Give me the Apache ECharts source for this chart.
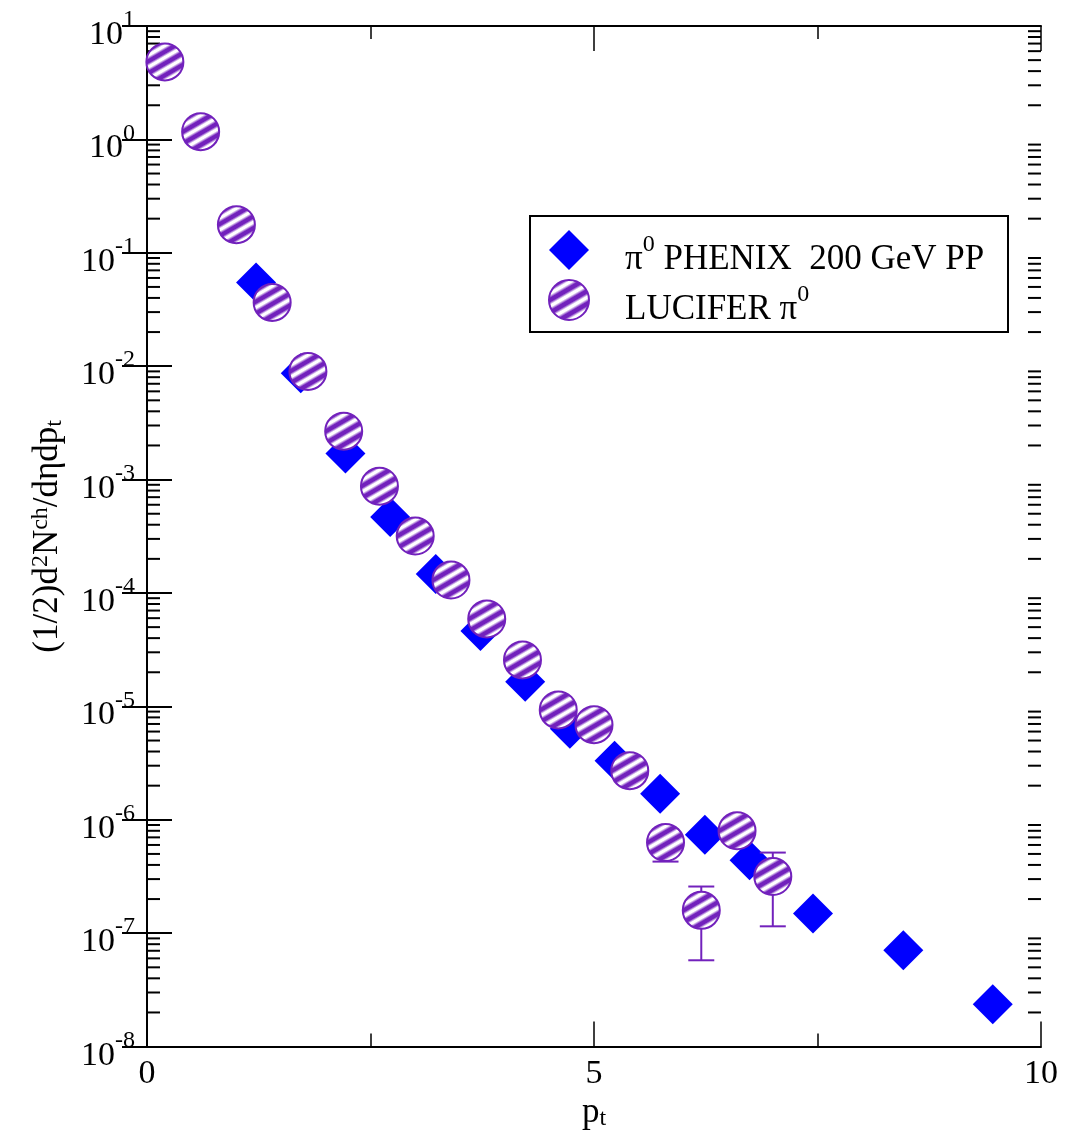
<!DOCTYPE html>
<html><head><meta charset="utf-8">
<script src="https://cdn.jsdelivr.net/npm/echarts@6/dist/echarts.min.js"></script>
<style>html,body{margin:0;padding:0;background:#fff}#c{width:1066px;height:1136px}</style>
</head><body><div id="c"></div>
<script>
// ---- data ----
const phenixPt    = [1.22, 1.72, 2.22, 2.72, 3.23, 3.73, 4.23, 4.73, 5.23, 5.74, 6.24, 6.74, 7.45, 8.46, 9.46];
const phenixYield = [0.0547, 0.00865, 0.0017, 4.67e-4, 1.47e-4, 4.63e-5, 1.65e-5, 6.35e-6, 3.32e-6, 1.70e-6, 7.4e-7, 4.4e-7, 1.49e-7, 7.06e-8, 2.36e-8];
const luciferPt    = [0.2, 0.6, 1.0, 1.4, 1.8, 2.2, 2.6, 3.0, 3.4, 3.8, 4.2, 4.6, 5.0, 5.4, 5.8, 6.2, 6.6, 7.0];
const luciferYield = [4.82, 1.17, 0.177, 0.0365, 0.009, 0.00267, 8.75e-4, 3.18e-4, 1.30e-4, 5.9e-5, 2.57e-5, 9.3e-6, 6.9e-6, 2.71e-6, 6.3e-7, 1.59e-7, 8.0e-7, 3.16e-7];
const luciferErrLow  = [null,null,null,null,null,null,null,null,null,null,null,null,null,null, 4.28e-7, 5.77e-8, null, 1.15e-7];
const luciferErrHigh = [null,null,null,null,null,null,null,null,null,null,null,null,null,null, 8.3e-7, 2.58e-7, null, 5.14e-7];
const xRange = [0, 10];
const yRange = [1e-8, 10];
const yMinorMantissas = [2, 3, 4, 5, 6, 7, 8, 9];
const yDecadeExps = [-8, -7, -6, -5, -4, -3, -2, -1, 0];

const BLUE = '#0000ff';
const PURPLE = '#7221bc';
const FONT = '"Liberation Serif", "Times New Roman", serif';

// minor tick values for the log axis
const yMinorVals = [];
yDecadeExps.forEach(e => yMinorMantissas.forEach(m => yMinorVals.push(m * Math.pow(10, e))));

// striped fill for the LUCIFER circles
function stripes() {
  const stops = [];
  const n = 3.8;
  for (let i = 0; i < Math.ceil(n); i++) {
    const p = 1 / n, o = i * p;
    const push = (f, c) => { const v = o + f * p; if (v <= 1) stops.push({offset: v, color: c}); };
    push(0.0, PURPLE); push(0.18, PURPLE); push(0.42, '#ffffff'); push(0.62, '#ffffff'); push(0.88, PURPLE);
  }
  stops.push({offset: 1, color: PURPLE});
  return new echarts.graphic.LinearGradient(0.25, 0.07, 0.75, 0.93, stops);
}

const chart = echarts.init(document.getElementById('c'), null, {renderer: 'canvas'});

const axisLine = {show: true, lineStyle: {color: '#000', width: 2}};

const option = {
  animation: false,
  backgroundColor: '#fff',
  grid: {left: 147, right: 25, top: 24, bottom: 89, containLabel: false},
  xAxis: [{
    type: 'value', min: xRange[0], max: xRange[1], interval: 5,
    axisLine: axisLine,
    axisTick: {show: true, inside: true, length: 25, lineStyle: {color: '#000', width: 1.5}},
    minorTick: {show: true, splitNumber: 2, length: 13, lineStyle: {color: '#000', width: 1.5}},
    splitLine: {show: false},
    axisLabel: {color: '#000', fontFamily: FONT, fontSize: 34, margin: 10},
    name: '{a|p}{b|t}', nameLocation: 'middle', nameGap: 46,
    nameTextStyle: {rich: {
      a: {fontFamily: FONT, fontSize: 35, color: '#000', lineHeight: 36},
      b: {fontFamily: FONT, fontSize: 24, color: '#000', verticalAlign: 'bottom', lineHeight: 24}
    }}
  }, {
    type: 'value', position: 'top', min: xRange[0], max: xRange[1], interval: 5,
    axisLine: axisLine,
    axisTick: {show: true, inside: true, length: 25, lineStyle: {color: '#000', width: 1.5}},
    minorTick: {show: true, splitNumber: 2, length: 13, lineStyle: {color: '#000', width: 1.5}},
    splitLine: {show: false}, axisLabel: {show: false}
  }],
  yAxis: [{
    type: 'log', logBase: 10, min: yRange[0], max: yRange[1], splitNumber: 9,
    axisLine: axisLine,
    axisTick: {show: true, inside: true, length: 25, lineStyle: {color: '#000', width: 2}},
    splitLine: {show: false},
    axisLabel: {
      margin: 12,
      formatter: v => '{b|10}{s|' + Math.round(Math.log10(v)) + '}',
      rich: {
        b: {fontFamily: FONT, fontSize: 34, color: '#000', lineHeight: 36, padding: [18, 0, 0, 0]},
        s: {fontFamily: FONT, fontSize: 24, color: '#000', verticalAlign: 'top', lineHeight: 24}
      }
    },
    name: '{a|(1/2)d}{s|2}{a|N}{s|ch}{a|/dηdp}{b|t}', nameLocation: 'middle', nameGap: 80,
    nameTextStyle: {rich: {
      a: {fontFamily: FONT, fontSize: 35, color: '#000', lineHeight: 38},
      s: {fontFamily: FONT, fontSize: 24, color: '#000', verticalAlign: 'top', lineHeight: 24},
      b: {fontFamily: FONT, fontSize: 24, color: '#000', verticalAlign: 'bottom', lineHeight: 24}
    }}
  }, {
    type: 'log', logBase: 10, min: yRange[0], max: yRange[1], splitNumber: 9, position: 'right',
    axisLine: axisLine,
    axisTick: {show: true, inside: true, length: 25, lineStyle: {color: '#000', width: 2}},
    splitLine: {show: false}, axisLabel: {show: false}
  }],
  legend: {
    data: ['PHENIX', 'LUCIFER'],
    orient: 'vertical', left: 543, top: 218,
    itemWidth: 40, itemHeight: 40, itemGap: -4,
    formatter: name => name === 'PHENIX'
      ? '{g|π}{s|0}{t| PHENIX  200 GeV PP}'
      : '{t|LUCIFER }{g|π}{s|0}',
    textStyle: {
      padding: [0, 0, 0, 31],
      rich: {
        g: {fontFamily: FONT, fontSize: 35, color: '#000', lineHeight: 34, padding: [19, 0, 0, 0]},
        t: {fontFamily: FONT, fontSize: 35, color: '#000', lineHeight: 34, padding: [19, 0, 0, 0]},
        s: {fontFamily: FONT, fontSize: 24, color: '#000', verticalAlign: 'top', lineHeight: 22}
      }
    }
  },
  graphic: [{
    type: 'rect', silent: true, z: 100,
    shape: {x: 530, y: 216, width: 478, height: 116},
    style: {fill: 'none', stroke: '#000', lineWidth: 2}
  }],
  series: [
    {
      type: 'custom', name: 'minorTicks', silent: true, clip: false, z: 1,
      data: yMinorVals.map(v => [xRange[0], v]),
      renderItem: (params, api) => {
        const v = api.value(1);
        const pl = api.coord([xRange[0], v]);
        const pr = api.coord([xRange[1], v]);
        return {type: 'group', children: [
          {type: 'line', shape: {x1: pl[0], y1: pl[1], x2: pl[0] + 13, y2: pl[1]}, style: {stroke: '#000', lineWidth: 2}},
          {type: 'line', shape: {x1: pr[0] - 13, y1: pr[1], x2: pr[0], y2: pr[1]}, style: {stroke: '#000', lineWidth: 2}}
        ]};
      }
    },
    {
      type: 'scatter', name: 'PHENIX', symbol: 'diamond', symbolSize: 40, z: 3,
      itemStyle: {color: BLUE, opacity: 1},
      data: phenixPt.map((x, i) => [x, phenixYield[i]])
    },
    {
      type: 'custom', name: 'errbars', silent: true, z: 4,
      data: luciferPt.map((x, i) => [x, luciferErrLow[i], luciferErrHigh[i]]).filter(d => d[1] != null),
      renderItem: (params, api) => {
        const x = api.value(0);
        const lo = api.coord([x, api.value(1)]);
        const hi = api.coord([x, api.value(2)]);
        const w = 13;
        const st = {stroke: PURPLE, lineWidth: 2};
        return {type: 'group', children: [
          {type: 'line', shape: {x1: lo[0], y1: lo[1], x2: hi[0], y2: hi[1]}, style: st},
          {type: 'line', shape: {x1: lo[0] - w, y1: lo[1], x2: lo[0] + w, y2: lo[1]}, style: st},
          {type: 'line', shape: {x1: hi[0] - w, y1: hi[1], x2: hi[0] + w, y2: hi[1]}, style: st}
        ]};
      }
    },
    {
      type: 'scatter', name: 'LUCIFER', symbol: 'circle', symbolSize: 37, z: 5,
      itemStyle: {color: stripes(), borderColor: PURPLE, borderWidth: 2, opacity: 1},
      data: luciferPt.map((x, i) => [x, luciferYield[i]])
    }
  ]
};
chart.setOption(option);
</script>
</body></html>
